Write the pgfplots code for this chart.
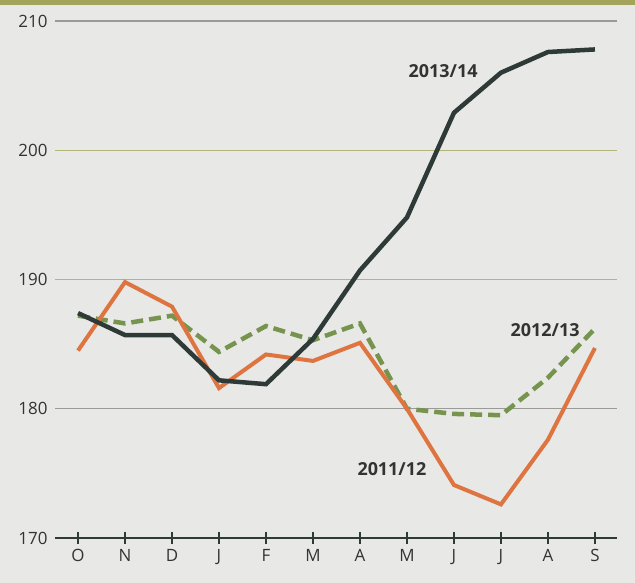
\documentclass[border=0pt]{standalone}
\usepackage{pgfplots}
\pgfplotsset{compat=1.18}
\usepackage{fontspec}
\setmainfont{Open Sans}
\definecolor{bg}{HTML}{E8E8E6}
\definecolor{strip}{HTML}{A2A45A}
\definecolor{darkline}{HTML}{2E3A38}
\definecolor{orangeline}{HTML}{DE7440}
\definecolor{greenline}{HTML}{76944E}
\definecolor{gridgray}{HTML}{9A9A98}
\definecolor{gridolive}{HTML}{B2B478}
\definecolor{txt}{HTML}{333333}
\pgfplotstableread{
x v
0 187.4
1 185.7
2 185.7
3 182.2
4 181.9
5 185.4
6 190.7
7 194.8
8 202.9
9 206.0
10 207.6
11 207.8
}\tabA
\pgfplotstableread{
x v
0 184.5
1 189.8
2 187.9
3 181.6
4 184.2
5 183.7
6 185.1
7 180.0
8 174.1
9 172.6
10 177.6
11 184.7
}\tabB
\pgfplotstableread{
x v
0 187.2
1 186.6
2 187.2
3 184.4
4 186.4
5 185.3
6 186.6
7 180.0
8 179.6
9 179.5
10 182.4
11 186.2
}\tabC
\begin{document}
\begin{tikzpicture}[x=1bp,y=1bp]
\fill[bg] (0,0) rectangle (635,583);
\fill[strip] (0,578) rectangle (635,583);
\begin{axis}[
  at={(55bp,45bp)}, anchor=south west, scale only axis,
  width=562bp, height=517bp,
  xmin=-0.49, xmax=11.47, ymin=170, ymax=210,
  axis x line*=bottom, axis y line*=left,
  y axis line style={draw=none},
  x axis line style={draw=darkline, line width=2.6bp},
  xtick={0,...,11},
  xticklabels={O,N,D,J,F,M,A,M,J,J,A,S},
  xtick align=center, major tick length=12bp,
  xtick style={draw=darkline, line width=1.6bp},
  ytick={170,180,210},
  extra y ticks={190,200},
  extra y tick style={grid style={draw=gridolive, line width=1.3bp}},
  ytick style={draw=none},
  ymajorgrids,
  grid style={draw=gridgray, line width=1.1bp},
  /pgf/number format/assume math mode=true,
  ticklabel style={font=\fontsize{17}{17}\selectfont, text=txt},
  yticklabel style={xshift=-4bp},
  xticklabel style={yshift=-2bp},
  clip=false,
]
\addplot[draw=greenline, line width=4.5bp, dash pattern=on 12bp off 6bp] table[x=x,y=v]{\tabC};
\addplot[draw=orangeline, line width=4bp] table[x=x,y=v]{\tabB};
\addplot[draw=darkline, line width=4.5bp] table[x=x,y=v]{\tabA};
\node[font=\fontsize{18}{18}\selectfont\bfseries, text=txt] at (axis cs:7.77,206.1) {2013/14};
\node[font=\fontsize{18}{18}\selectfont\bfseries, text=txt] at (axis cs:9.94,186.1) {2012/13};
\node[font=\fontsize{18}{18}\selectfont\bfseries, text=txt] at (axis cs:6.68,175.3) {2011/12};
\end{axis}
\end{tikzpicture}
\end{document}
